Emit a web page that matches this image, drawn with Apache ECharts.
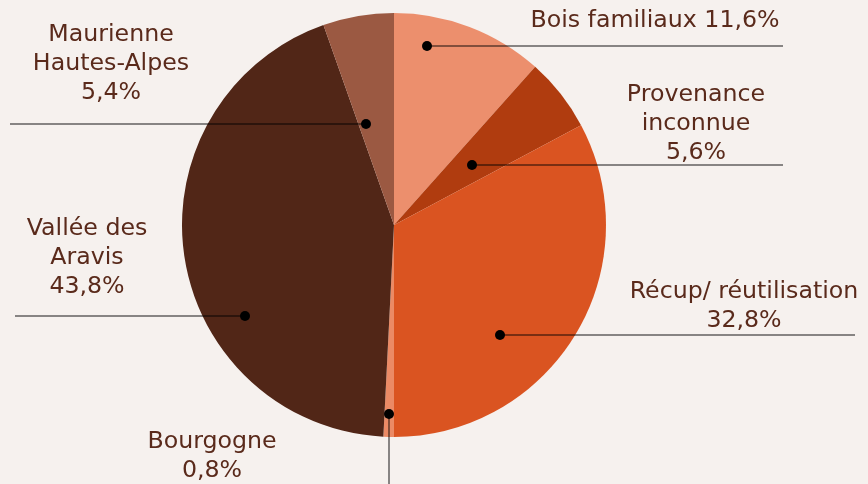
<!DOCTYPE html>
<html>
<head>
<meta charset="utf-8">
<script src="https://cdn.jsdelivr.net/npm/echarts@6/dist/echarts.min.js"></script>
<style>
html,body{margin:0;padding:0;background:#F6F1EE;}
#chart{width:868px;height:484px;}
</style>
</head>
<body>
<div id="chart"></div>
<script>
// ---- data ----
var categories = ['Bois familiaux', 'Provenance\ninconnue', 'Récup/ réutilisation', 'Bourgogne', 'Vallée des\nAravis', 'Maurienne\nHautes-Alpes'];
var values = [11.6, 5.6, 32.8, 0.8, 43.8, 5.4];
var labelSeparators = [' ', '\n', '\n', '\n', '\n', '\n'];

// ---- styles / layout (not data) ----
var colors = ['#EC8F6D', '#B03C0F', '#DA5421', '#EB8A65', '#512617', '#9B5942'];
var pieCenter = [394, 225];
var pieRadius = 212;
// label centre positions
var labelPos = [[655, 21], [696, 124], [744, 306], [212, 456], [87, 258], [111, 64]];
// leader lines: [anchor point inside slice, outer end]
var leaderLines = [
  [[427, 46], [783, 46]],
  [[472, 165], [783, 165]],
  [[500, 335], [855, 335]],
  [[389, 414], [389, 490]],
  [[245, 316], [15, 316]],
  [[366, 124], [10, 124]]
];

function fmt(v) { return v.toFixed(1).replace('.', ',') + '%'; }

var chart = echarts.init(document.getElementById('chart'), null, {renderer: 'canvas'});
var data = categories.map(function (c, i) {
  return { name: c, value: values[i], itemStyle: { color: colors[i] } };
});

var graphics = [];
leaderLines.forEach(function (l) {
  graphics.push({
    type: 'line', z: 99,
    shape: { x1: l[0][0], y1: l[0][1], x2: l[1][0], y2: l[1][1] },
    style: { stroke: 'rgba(0,0,0,0.45)', lineWidth: 2 }
  });
  graphics.push({
    type: 'circle', z: 100,
    shape: { cx: l[0][0], cy: l[0][1], r: 5 },
    style: { fill: '#000' }
  });
});

chart.setOption({
  backgroundColor: '#F6F1EE',
  animation: false,
  series: [{
    type: 'pie',
    center: pieCenter,
    radius: pieRadius,
    startAngle: 90,
    clockwise: true,
    avoidLabelOverlap: false,
    silent: true,
    data: data,
    label: {
      show: true,
      position: 'outside',
      fontFamily: 'DejaVu Sans',
      fontSize: 23.7,
      lineHeight: 29,
      color: '#5A2A1B',
      align: 'center',
      formatter: function (p) {
        return p.name + labelSeparators[p.dataIndex] + fmt(p.value);
      }
    },
    labelLine: { show: false },
    labelLayout: function (p) {
      var i = p.dataIndex;
      return {
        x: labelPos[i][0],
        y: labelPos[i][1],
        align: 'center',
        verticalAlign: 'middle'
      };
    }
  }],
  graphic: graphics
});
</script>
</body>
</html>
